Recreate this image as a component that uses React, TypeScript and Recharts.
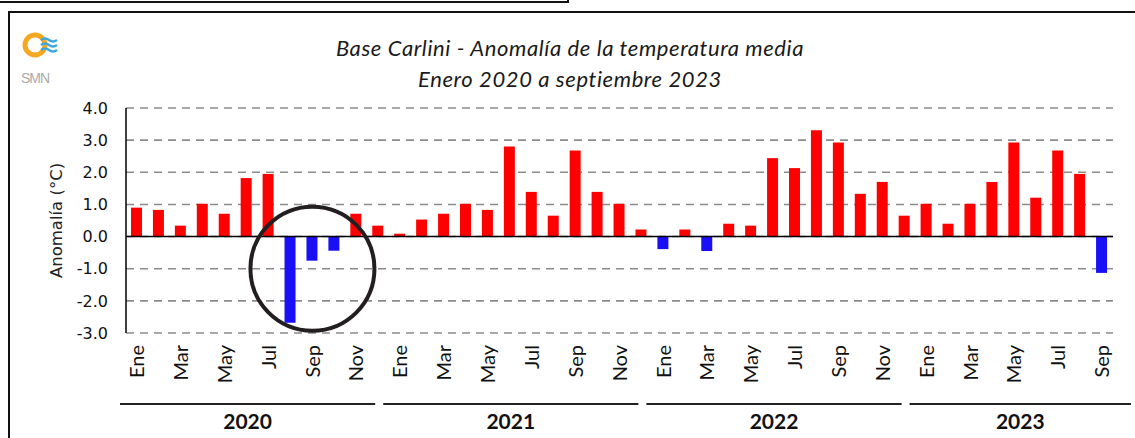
import React from 'react';
import { BarChart, Bar, Cell, XAxis, YAxis, CartesianGrid, ReferenceLine, ReferenceDot } from 'recharts';

const months = ['Ene', 'Feb', 'Mar', 'Abr', 'May', 'Jun', 'Jul', 'Ago', 'Sep', 'Oct', 'Nov', 'Dic'];
const years = ['2020', '2021', '2022', '2023'];

// anomalías mensuales (°C)
const anom2020 = [0.9, 0.83, 0.34, 1.02, 0.71, 1.82, 1.95, -2.68, -0.75, -0.44, 0.71, 0.34];
const anom2021 = [0.09, 0.53, 0.71, 1.02, 0.83, 2.8, 1.39, 0.65, 2.68, 1.39, 1.02, 0.22];
const anom2022 = [-0.39, 0.22, -0.45, 0.4, 0.34, 2.44, 2.13, 3.31, 2.93, 1.33, 1.7, 0.65];
const anom2023 = [1.02, 0.4, 1.02, 1.7, 2.93, 1.21, 2.68, 1.95, -1.13];

const yTicks = [-3, -2, -1, 0, 1, 2, 3, 4];

const series = [anom2020, anom2021, anom2022, anom2023];
const data = series.flatMap((vals, yi) =>
  vals.map((v, mi) => ({ key: `${months[mi]} ${years[yi]}`, month: months[mi], year: years[yi], m: mi, n: vals.length, value: v }))
);

const W = 1135;
const H = 438;
const PLOT_LEFT = 126;
const PLOT_RIGHT = 22;
const BW = (W - PLOT_LEFT - PLOT_RIGHT) / data.length;

const RED = '#ff0000';
const BLUE = '#1a0ff5';

function MonthTick(props: any) {
  const { x, y, index } = props;
  const d = data[index];
  if (!d) return null;
  const parts: React.ReactNode[] = [];
  if (index % 2 === 0) {
    parts.push(
      <text key="m" x={x} y={y + 12} transform={`rotate(-90, ${x}, ${y + 12})`} textAnchor="end" dy="0.36em"
        fontFamily="Lato, sans-serif" fontSize={20} fill="#111">{d.month}</text>
    );
  }
  if (d.m === 0) {
    const isLast = d.year === years[years.length - 1];
    const start = x - BW / 2 - 6;
    const end = x + (d.n - 1) * BW + BW / 2 - (isLast ? -18 : 14);
    parts.push(<line key="l" x1={start} x2={end} y1={y + 71} y2={y + 71} stroke="#222" strokeWidth={2} />);
    parts.push(
      <text key="y" x={(start + end) / 2} y={y + 96} textAnchor="middle" fontFamily="Lato, sans-serif"
        fontWeight="bold" fontSize={21} fill="#111">{d.year}</text>
    );
  }
  return <g>{parts}</g>;
}

function Logo() {
  return (
    <svg width={70} height={70} style={{ position: 'absolute', left: 14, top: 26 }}>
      <circle cx={21} cy={19} r={10} fill="none" stroke="#f7a823" strokeWidth={5} />
      <path d="M27 14 q4 -3 8 0 t8 0" fill="none" stroke="#3aa7e0" strokeWidth={2.5} />
      <path d="M27 19 q4 -3 8 0 t8 0" fill="none" stroke="#3aa7e0" strokeWidth={2.5} />
      <path d="M27 24 q4 -3 8 0 t8 0" fill="none" stroke="#3aa7e0" strokeWidth={2.5} />
      <text x={7} y={57} fontFamily="Liberation Sans, Arial, sans-serif" fontSize={14} fill="#aaa" letterSpacing={-1}>SMN</text>
    </svg>
  );
}

export default function App() {
  return (
    <div style={{ position: 'absolute', left: 0, top: 0, width: W, height: H, background: '#fff', overflow: 'hidden' }}>
      <div style={{ position: 'absolute', left: -2, top: -10, width: 567, height: 9, border: '2px solid #111' }} />
      <div style={{ position: 'absolute', left: 8, top: 11, width: W, height: H, borderLeft: '2px solid #111', borderTop: '2px solid #111' }} />
      <Logo />
      <div style={{ position: 'absolute', left: 0, top: 32, width: 1140, textAlign: 'center', fontFamily: 'Lato, sans-serif', fontStyle: 'italic', fontSize: 22, letterSpacing: 0.6, lineHeight: '31px', color: '#1a1a1a' }}>
        <div>Base Carlini - Anomalía de la temperatura media</div>
        <div>Enero 2020 a septiembre 2023</div>
      </div>
      <div style={{ position: 'absolute', left: 0, top: 0 }}>
        <BarChart width={W} height={H} data={data} margin={{ top: 108, right: PLOT_RIGHT, bottom: 5, left: PLOT_LEFT - 60 }}>
          <CartesianGrid vertical={false} horizontal stroke="#8c8c8c" strokeWidth={1.6} strokeDasharray="8 6" />
          <XAxis dataKey="key" interval={0} axisLine={false} tickLine={false} tickSize={0} tickMargin={0} height={100} tick={<MonthTick />} />
          <YAxis domain={[-3, 4]} ticks={yTicks} width={60} tickLine={false} tickSize={0} tickMargin={18}
            axisLine={{ stroke: '#000', strokeWidth: 1.5 }}
            tickFormatter={(v: number) => v.toFixed(1)}
            tick={{ fontFamily: 'DejaVu Sans, sans-serif', fontSize: 16, fill: '#111' }}
            label={{ value: 'Anomalía (°C)', angle: -90, position: 'insideLeft', offset: 0, dx: -10, style: { fontFamily: 'DejaVu Sans, sans-serif', fontSize: 16.5, fill: '#222', textAnchor: 'middle' } }} />
          <ReferenceLine y={0} stroke="#000" strokeWidth={1.5} />
          <Bar dataKey="value" isAnimationActive={false} barSize={11}>
            {data.map((d, i) => (
              <Cell key={`c-${i}`} fill={d.value < 0 ? BLUE : RED} />
            ))}
          </Bar>
          <ReferenceDot x="Sep 2020" y={-1} r={62} fill="none" stroke="#231f20" strokeWidth={4} ifOverflow="visible" />
        </BarChart>
      </div>
    </div>
  );
}
